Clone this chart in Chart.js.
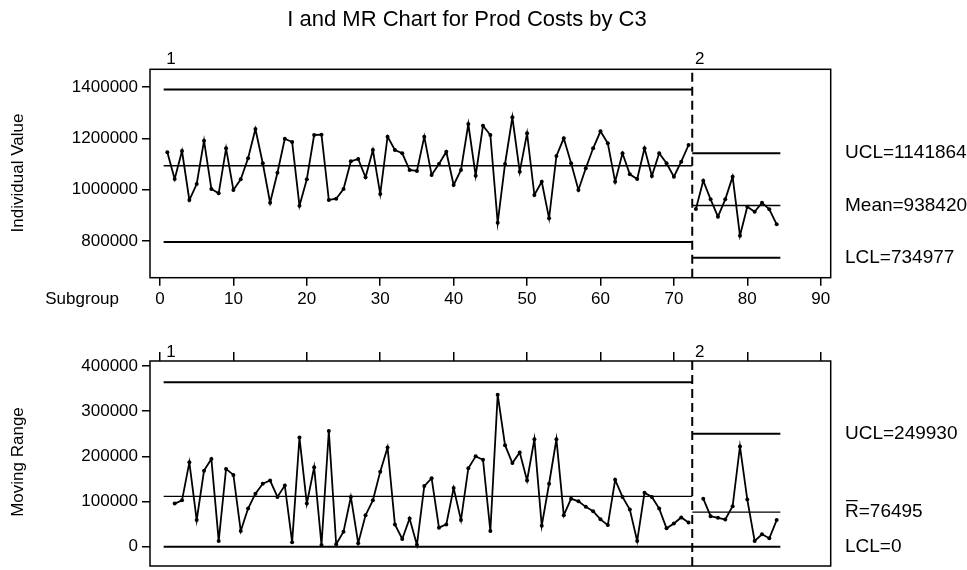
<!DOCTYPE html>
<html>
<head>
<meta charset="utf-8">
<script src="https://cdn.jsdelivr.net/npm/chart.js@4.4.1/dist/chart.umd.min.js"></script>
<style>
  html, body { margin: 0; padding: 0; background: #fff; }
  #wrap { position: relative; width: 967px; height: 570px; background: #fff; }
  canvas { position: absolute; left: 0; }
  #ichart { top: 0; }
  #mrchart { top: 320px; }
</style>
</head>
<body>
<div id="wrap">
  <canvas id="ichart" width="967" height="320"></canvas>
  <canvas id="mrchart" width="967" height="250"></canvas>
</div>
<script>
// individual production costs, subgroups 1-72 (stage 1) and 73-84 (stage 2)
const iStage1 = [
  1145400, 1041500, 1150400, 959800, 1022000, 1190500, 1002600, 985900, 1160900, 998700,
  1040300, 1122000, 1236000, 1102600, 949300, 1066000, 1198300, 1185400, 937600, 1040300,
  1212700, 1213800, 959800, 964900, 1002600, 1110400, 1119300, 1048100, 1154300, 983000,
  1206100, 1154300, 1141500, 1076500, 1072600, 1206100, 1057100, 1099900, 1147700, 1018200,
  1076500, 1255400, 1054300, 1248800, 1212700, 871500, 1099900, 1281500, 1069900, 1219300,
  979300, 1031000, 888600, 1131000, 1199800, 1102600, 998700, 1083100, 1160900, 1227000,
  1180400, 1031000, 1141500, 1059800, 1041500, 1160900, 1053200, 1141500, 1102600, 1050500,
  1108800, 1173800
];
const iStage2 = [
  924800, 1034900, 962500, 894900, 962500, 1050500, 820900, 933800, 914300, 949300,
  923600, 865300
];
// moving ranges: stage 1 starts at subgroup 2, stage 2 at subgroup 74
const mrStage1 = [
  95400, 102600, 186800, 58800, 168400, 194100, 12700, 172200, 159000,
  34700, 84400, 117300, 139300, 146500, 110100, 135500, 9900, 241700, 95400,
  175900, 3900, 256100, 5500, 33300, 110100, 7700, 69700, 102600, 166200,
  219700, 49300, 17100, 62500, 4000, 134200, 151800, 42100, 49300, 129800,
  58800, 173700, 200000, 192500, 34700, 336600, 224800, 185300, 208800, 146500,
  237900, 46500, 139300, 237900, 69700, 106400, 100400, 88200, 78500, 60500,
  47800, 148000, 110100, 82200, 12700, 119500, 110100, 84400, 40600, 51500,
  64700, 53700
];
const mrStage2 = [
  106400, 67500, 64000, 60300, 89500, 221900, 104200, 12700, 27400, 18600, 58800
];

// stage limits
const stageNames = ['1', '2'];
const stageFirst = [1, 73];
const stageStart = [0.5, 72.5];
const stageEnd = [72.5, 84.5];
const iUcl = [1389300, 1141864];
const iMean = [1093000, 938420];
const iLcl = [796700, 734977];
const mrUcl = [363900, 249930];
const mrBar = [111400, 76495];
const mrLcl = [0, 0];

// tick labels
const xTicks = [0, 10, 20, 30, 40, 50, 60, 70, 80, 90];
const iTicks = [800000, 1000000, 1200000, 1400000];
const mrTicks = [0, 100000, 200000, 300000, 400000];

const FONT = "'Liberation Sans', Arial, Helvetica, sans-serif";
Chart.defaults.font.family = FONT;
Chart.defaults.font.size = 17;
Chart.defaults.color = '#000';

const toPoints = (vals, first) => vals.map((v, k) => ({ x: first + k, y: v }));

function seriesSet(vals, first) {
  return {
    data: toPoints(vals, first),
    borderColor: '#000',
    borderWidth: 1.8,
    pointRadius: 2,
    pointBackgroundColor: '#000',
    pointBorderWidth: 0,
    tension: 0
  };
}

function levelSet(value, s, width) {
  return {
    data: [{ x: stageStart[s], y: value }, { x: stageEnd[s], y: value }],
    borderColor: '#000',
    borderWidth: width,
    pointRadius: 0
  };
}

function breakSet(lo, hi) {
  return {
    data: [{ x: stageEnd[0], y: lo }, { x: stageEnd[0], y: hi }],
    borderColor: '#000',
    borderWidth: 2,
    borderDash: [9, 5],
    pointRadius: 0
  };
}

const tickGrid = len => ({
  display: true, drawOnChartArea: false, drawTicks: true,
  tickLength: len, color: '#000', lineWidth: 1.5
});

function xAxis(pos, height, showLabels, tickLen) {
  return {
    type: 'linear', position: pos, min: -1.36, max: 91.36,
    afterBuildTicks: s => { s.ticks = xTicks.map(v => ({ value: v })); },
    afterFit: s => { s.height = height; s.paddingLeft = 0; s.paddingRight = 0; },
    grid: tickGrid(tickLen),
    border: { display: false },
    ticks: { display: showLabels, padding: 3, maxRotation: 0, autoSkip: false, font: { size: 17 } }
  };
}

function yAxis(min, max, ticks) {
  return {
    type: 'linear', min: min, max: max,
    afterBuildTicks: s => { s.ticks = ticks.map(v => ({ value: v })); },
    afterFit: s => { s.width = 150; s.paddingTop = 0; s.paddingBottom = 0; },
    grid: tickGrid(8),
    border: { display: false },
    ticks: { padding: 4, autoSkip: false, font: { size: 17 }, callback: v => String(v) }
  };
}

function drawFrame(chart) {
  const a = chart.chartArea, ctx = chart.ctx;
  ctx.save();
  ctx.strokeStyle = '#000';
  ctx.lineWidth = 1.5;
  ctx.strokeRect(a.left, a.top, a.right - a.left, a.bottom - a.top);
  ctx.restore();
}

function drawStageNames(chart, y) {
  const ctx = chart.ctx, xs = chart.scales.x;
  ctx.save();
  ctx.font = '17px ' + FONT;
  ctx.fillStyle = '#000';
  ctx.textAlign = 'left';
  ctx.textBaseline = 'middle';
  stageNames.forEach((n, i) => ctx.fillText(n, xs.getPixelForValue(stageFirst[i]) - 1, y));
  ctx.restore();
}

function drawRightLabels(chart, items) {
  const ctx = chart.ctx, ys = chart.scales.y;
  ctx.save();
  ctx.font = '19px ' + FONT;
  ctx.fillStyle = '#000';
  ctx.strokeStyle = '#000';
  ctx.textAlign = 'left';
  ctx.textBaseline = 'middle';
  items.forEach(it => {
    const y = ys.getPixelForValue(it.value);
    ctx.fillText(it.text, 845, y);
    if (it.bar) {
      // bar over the R of R-bar
      const w = ctx.measureText(it.text.charAt(0)).width;
      ctx.lineWidth = 1.2;
      ctx.beginPath();
      ctx.moveTo(846, y - 11.5);
      ctx.lineTo(845 + w - 1, y - 11.5);
      ctx.stroke();
    }
  });
  ctx.restore();
}

function drawVertical(ctx, text, x, y) {
  ctx.save();
  ctx.translate(x, y);
  ctx.rotate(-Math.PI / 2);
  ctx.font = '17px ' + FONT;
  ctx.fillStyle = '#000';
  ctx.textAlign = 'center';
  ctx.textBaseline = 'middle';
  ctx.fillText(text, 0, 0);
  ctx.restore();
}

const baseOptions = (padding) => ({
  responsive: false,
  animation: false,
  devicePixelRatio: 1,
  events: [],
  layout: { padding: padding },
  plugins: { legend: { display: false }, tooltip: { enabled: false }, title: { display: false } }
});

// I chart
const iOpts = baseOptions({ top: 69.3, right: 136.3, bottom: 0, left: 0 });
iOpts.scales = {
  x: xAxis('bottom', 42.3, true, 8),
  y: yAxis(657600, 1468200, iTicks)
};
new Chart(document.getElementById('ichart'), {
  type: 'line',
  data: {
    datasets: [
      levelSet(iUcl[0], 0, 2), levelSet(iMean[0], 0, 1.4), levelSet(iLcl[0], 0, 2),
      levelSet(iUcl[1], 1, 2), levelSet(iMean[1], 1, 1.4), levelSet(iLcl[1], 1, 2),
      breakSet(657600, 1468200),
      seriesSet(iStage1, 1),
      seriesSet(iStage2, 73)
    ]
  },
  options: iOpts,
  plugins: [{
    id: 'iDecor',
    afterDraw(chart) {
      const ctx = chart.ctx;
      drawFrame(chart);
      ctx.save();
      ctx.font = '22px ' + FONT;
      ctx.fillStyle = '#000';
      ctx.textAlign = 'center';
      ctx.textBaseline = 'middle';
      ctx.fillText('I and MR Chart for Prod Costs by C3', 467, 20);
      ctx.font = '17px ' + FONT;
      ctx.textAlign = 'right';
      ctx.fillText('Subgroup', 119, 299);
      ctx.restore();
      drawVertical(ctx, 'Individual Value', 18, 173);
      drawStageNames(chart, 59);
      drawRightLabels(chart, [
        { text: 'UCL=' + iUcl[1], value: iUcl[1] },
        { text: 'Mean=' + iMean[1], value: iMean[1] },
        { text: 'LCL=' + iLcl[1], value: iLcl[1] }
      ]);
    }
  }]
});

// moving range chart
const mrOpts = baseOptions({ top: 0, right: 136.3, bottom: 2, left: 0 });
mrOpts.scales = {
  x: xAxis('top', 41, false, 9),
  y: yAxis(-42800, 411200, mrTicks)
};
new Chart(document.getElementById('mrchart'), {
  type: 'line',
  data: {
    datasets: [
      levelSet(mrUcl[0], 0, 2), levelSet(mrBar[0], 0, 1.4), levelSet(mrLcl[0], 0, 2),
      levelSet(mrUcl[1], 1, 2), levelSet(mrBar[1], 1, 1.4), levelSet(mrLcl[1], 1, 2),
      breakSet(-42800, 411200),
      seriesSet(mrStage1, 2),
      seriesSet(mrStage2, 74)
    ]
  },
  options: mrOpts,
  plugins: [{
    id: 'mrDecor',
    afterDraw(chart) {
      drawFrame(chart);
      drawVertical(chart.ctx, 'Moving Range', 18, 142);
      drawStageNames(chart, 32);
      drawRightLabels(chart, [
        { text: 'UCL=' + mrUcl[1], value: mrUcl[1] },
        { text: 'R=' + mrBar[1], value: mrBar[1], bar: true },
        { text: 'LCL=' + mrLcl[1], value: mrLcl[1] }
      ]);
    }
  }]
});
</script>
</body>
</html>
